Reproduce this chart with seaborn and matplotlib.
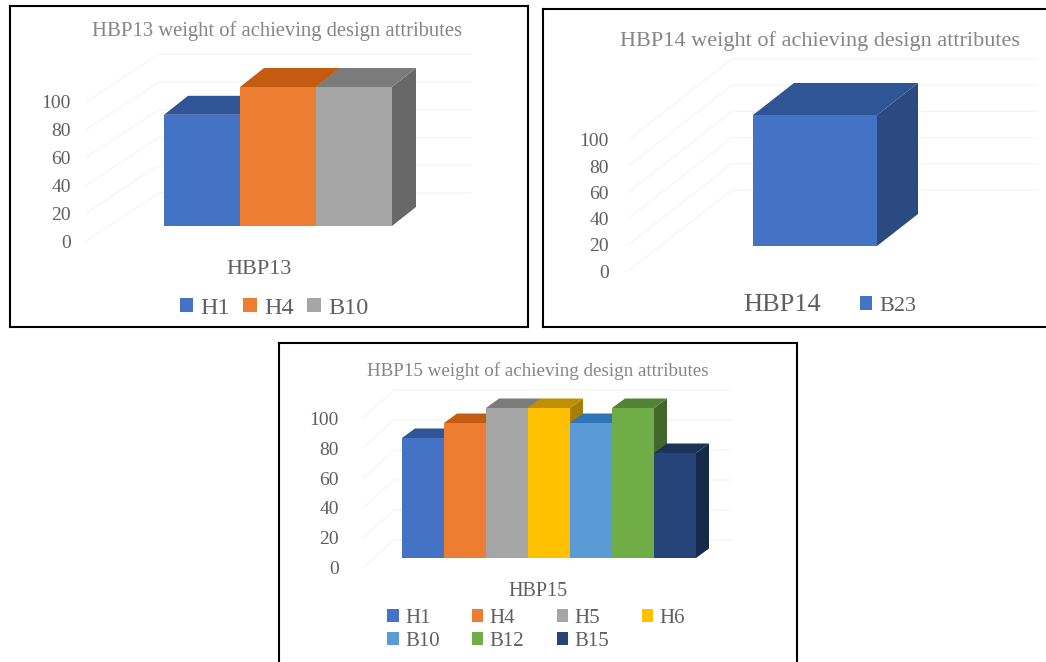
import matplotlib
matplotlib.use("Agg")
import matplotlib.pyplot as plt
from matplotlib.patches import Polygon
from matplotlib.transforms import Affine2D
import pandas as pd
import seaborn as sns

# Weights per design attribute
hbp13_attrs = ["H1", "H4", "B10"]
hbp13_values = [80, 100, 100]
hbp14_attrs = ["B23"]
hbp14_values = [100]
hbp15_attrs = ["H1", "H4", "H5", "H6", "B10", "B12", "B15"]
hbp15_values = [80, 90, 100, 100, 90, 100, 70]
y_ticks = [0, 20, 40, 60, 80, 100]

# Front, top and side shades of each attribute's bar
front = {"H1": "#4472C4", "H4": "#ED7D31", "H5": "#A5A5A5", "H6": "#FFC000",
         "B10": "#A5A5A5", "B12": "#70AD47", "B15": "#264478", "B23": "#4472C4"}
top = {"H1": "#2F5597", "H4": "#C55A11", "H5": "#7B7B7B", "H6": "#BF9000",
       "B10": "#7B7B7B", "B12": "#548235", "B15": "#1C3358", "B23": "#2F5597"}
side = {"H1": "#2B4A80", "H4": "#A34E14", "H5": "#686868", "H6": "#A67F00",
        "B10": "#686868", "B12": "#43682B", "B15": "#172A4A", "B23": "#2B4A80"}

W, H = 1046, 662
TITLE_GREY = "#858585"
TEXT_GREY = "#5f5f5f"
GRID = "#f4f4f4"
SERIF = ["Liberation Serif", "DejaVu Serif"]

sns.set_theme(style="white")
plt.rcParams["font.family"] = SERIF
fig = plt.figure(figsize=(W / 100, H / 100), dpi=100, facecolor="white")


def draw_panel(name, attrs, values, fronts=None, tops=None, sides=None, *, box, bars, base,
               scale, depth, tick_right, tick_drop, wall, title_xy, title_size,
               label_xy, label_size, legend_xy, legend_size, ncol, col_space):
    """One pseudo-3D bar panel; layout arguments are in pixels from the top left."""
    fronts = fronts or front
    tops = tops or top
    sides = sides or side
    x0, y0, x1, y1 = box
    ax = fig.add_axes([x0 / W, 1 - y1 / H, (x1 - x0) / W, (y1 - y0) / H])

    df = pd.DataFrame({"group": name, "attribute": attrs, "weight": values})
    sns.barplot(df, x="group", y="weight", hue="attribute", hue_order=attrs,
                palette=[fronts[a] for a in attrs], saturation=1, width=0.8, gap=0,
                linewidth=0, legend=False, ax=ax)

    # Map pixels to data so the faces can be extruded by a pixel depth
    per_x = (bars[1] - bars[0]) / 0.8
    ax.set_xlim(-0.4 - (bars[0] - x0) / per_x, 0.4 + (x1 - bars[1]) / per_x)
    ax.set_ylim(-(y1 - base) / scale, (base - y0) / scale)
    dx, dy = depth[0] / per_x, depth[1] / scale

    # Faint back wall and side wall gridlines
    wall_left, wall_back, wall_right, wall_rise = wall
    to_x = lambda px: -0.4 + (px - bars[0]) / per_x
    drop = tick_drop / scale
    rise = wall_rise / scale
    for t in y_ticks:
        ax.plot([to_x(wall_left), to_x(wall_back), to_x(wall_right)],
                [t - drop, t - drop + rise, t - drop + rise],
                color=GRID, lw=0.8, zorder=1)

    # Extrude left to right so nearer neighbours cover what they should
    handles = []
    for i, (patch, attr, v) in enumerate(zip(ax.patches, attrs, values)):
        xa, xb = patch.get_x(), patch.get_x() + patch.get_width()
        z = 3 + i
        patch.set_zorder(z)
        ax.add_patch(Polygon([(xb, 0), (xb + dx, dy), (xb + dx, v + dy), (xb, v)],
                             closed=True, fc=sides[attr], ec="none", zorder=z - 0.5))
        ax.add_patch(Polygon([(xa, v), (xb, v), (xb + dx, v + dy), (xa + dx, v + dy)],
                             closed=True, fc=tops[attr], ec="none", zorder=z - 0.5))
        handles.append(patch)

    ax.set_xlabel("")
    ax.set_ylabel("")
    ax.set_yticks(y_ticks)
    ax.tick_params(axis="both", length=0, pad=0)
    ax.tick_params(axis="y", labelsize=14, labelcolor=TEXT_GREY)
    ax.tick_params(axis="x", labelsize=label_size, labelcolor=TEXT_GREY)
    for lab in ax.get_yticklabels():
        lab.set_transform(lab.get_transform() + Affine2D().translate(tick_right - x0, -tick_drop))
    for lab in ax.get_xticklabels():
        lab.set_verticalalignment("center")
        cx = (bars[0] + bars[1]) / 2
        lab.set_transform(lab.get_transform()
                          + Affine2D().translate(label_xy[0] - cx, y1 - label_xy[1]))

    for s in ax.spines.values():
        s.set_visible(True)
        s.set_color("black")
        s.set_linewidth(1.5)

    fig.text(title_xy[0] / W, 1 - title_xy[1] / H, f"{name} weight of achieving design attributes",
             ha="center", va="center", color=TITLE_GREY, fontsize=title_size)

    # Column-first filling, so reorder to read across the rows
    rows = -(-len(attrs) // ncol)
    order = [i + r * ncol for i in range(ncol) for r in range(rows) if i + r * ncol < len(attrs)]
    leg = ax.legend([handles[i] for i in order], [attrs[i] for i in order], ncol=ncol,
                    loc="center", bbox_to_anchor=(legend_xy[0] / W, 1 - legend_xy[1] / H),
                    bbox_transform=fig.transFigure, frameon=False, fontsize=legend_size,
                    handlelength=0.56, handleheight=0.56, handletextpad=0.3,
                    columnspacing=col_space, borderpad=0, labelspacing=0.2,
                    labelcolor=TEXT_GREY)
    leg.set_zorder(20)
    return ax


draw_panel("HBP13", hbp13_attrs, hbp13_values,
           box=(10, 6, 528, 327), bars=(164, 392), base=226, scale=1.39, depth=(24, 19),
           tick_right=71, tick_drop=15, wall=(86, 159, 471, 48),
           title_xy=(277, 31), title_size=14.9, label_xy=(259, 269), label_size=16,
           legend_xy=(274, 308), legend_size=17.5, ncol=3, col_space=0.55)

draw_panel("HBP14", hbp14_attrs, hbp14_values,
           box=(543, 9, 1052, 327), bars=(753, 877), base=246, scale=1.31, depth=(41, 32),
           tick_right=609, tick_drop=25, wall=(628, 732, 1038, 81),
           title_xy=(820, 41), title_size=16, label_xy=(782, 305), label_size=19,
           legend_xy=(888, 306), legend_size=16, ncol=1, col_space=0.7)

hbp15_front = dict(front, B10="#5B9BD5")
hbp15_top = dict(top, B10="#2E75B6")
hbp15_side = dict(side, B10="#2E75B6")
draw_panel("HBP15", hbp15_attrs, hbp15_values, hbp15_front, hbp15_top, hbp15_side,
           box=(279, 343, 797, 668), bars=(402, 696), base=558, scale=1.5, depth=(13, 9.5),
           tick_right=339, tick_drop=10, wall=(363, 394, 731, 28),
           title_xy=(538, 371), title_size=13.7, label_xy=(538, 592), label_size=14.5,
           legend_xy=(536, 630), legend_size=15, ncol=4, col_space=1.55)

fig.savefig("out.png", dpi=100, facecolor="white")
